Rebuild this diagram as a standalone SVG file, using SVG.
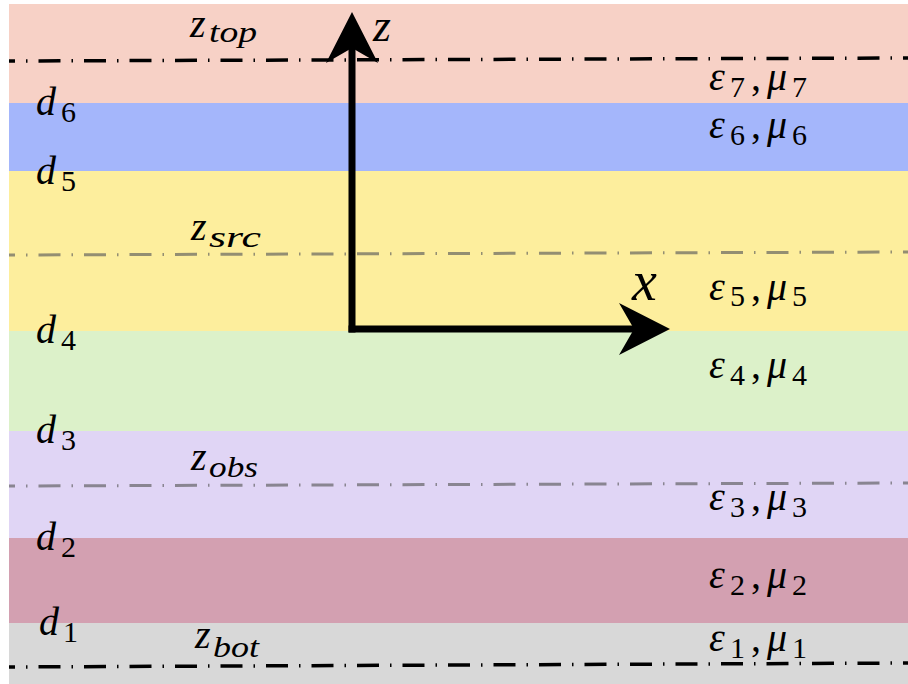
<svg xmlns="http://www.w3.org/2000/svg" width="908" height="684" viewBox="0 0 908 684">
<style>
.t{font-family:"Liberation Serif","Times New Roman",serif;font-size:40px;fill:#000}
.i{font-style:italic}
.s{font-size:30px;font-style:normal}
.si{font-size:29px;font-style:italic}
.ax{font-family:"Liberation Serif",serif;font-style:italic;fill:#000}
.dk{fill:none;stroke:#000;stroke-width:3.5;stroke-dasharray:22 11 1.5 11;stroke-dashoffset:16}
.gr{fill:none;stroke:#5a5a5a;stroke-opacity:0.65;stroke-width:3;stroke-dasharray:22 11 1.5 11;stroke-dashoffset:16}
.axis{fill:none;stroke:#000;stroke-width:7;marker-end:url(#ah)}
</style>
<defs>
<marker id="ah" viewBox="0 -26 51 52" refX="17" refY="0" markerWidth="51" markerHeight="52" markerUnits="userSpaceOnUse" orient="auto" overflow="visible">
<path d="M51,0 L0,-26 L15,0 L0,26 Z" fill="#000"/>
</marker>
</defs>
<rect x="0" y="0" width="908" height="684" fill="#fff"/>
<g id="layer7"><rect x="9" y="4" width="899" height="99" fill="#F7D1C6"/>
<text class="t"><tspan class="i" x="709" y="90">ε</tspan><tspan class="s" x="730" y="97">7</tspan><tspan x="751" y="90">,</tspan><tspan class="i" x="767" y="90">μ</tspan><tspan class="s" x="792" y="97">7</tspan></text></g>
<g id="layer6"><rect x="9" y="103" width="899" height="68" fill="#A4B6FB"/>
<text class="t"><tspan class="i" x="709" y="138">ε</tspan><tspan class="s" x="730" y="145">6</tspan><tspan x="751" y="138">,</tspan><tspan class="i" x="767" y="138">μ</tspan><tspan class="s" x="792" y="145">6</tspan></text></g>
<g id="layer5"><rect x="9" y="171" width="899" height="160" fill="#FDEE9D"/>
<text class="t"><tspan class="i" x="709" y="300">ε</tspan><tspan class="s" x="730" y="306">5</tspan><tspan x="751" y="300">,</tspan><tspan class="i" x="767" y="300">μ</tspan><tspan class="s" x="792" y="306">5</tspan></text></g>
<g id="layer4"><rect x="9" y="331" width="899" height="100" fill="#DCF1C9"/>
<text class="t"><tspan class="i" x="709" y="378">ε</tspan><tspan class="s" x="730" y="385">4</tspan><tspan x="751" y="378">,</tspan><tspan class="i" x="767" y="378">μ</tspan><tspan class="s" x="792" y="385">4</tspan></text></g>
<g id="layer3"><rect x="9" y="431" width="899" height="107" fill="#E0D5F5"/>
<text class="t"><tspan class="i" x="709" y="510">ε</tspan><tspan class="s" x="730" y="517">3</tspan><tspan x="751" y="510">,</tspan><tspan class="i" x="767" y="510">μ</tspan><tspan class="s" x="792" y="517">3</tspan></text></g>
<g id="layer2"><rect x="9" y="538" width="899" height="85" fill="#D3A0B1"/>
<text class="t"><tspan class="i" x="709" y="588">ε</tspan><tspan class="s" x="730" y="595">2</tspan><tspan x="751" y="588">,</tspan><tspan class="i" x="767" y="588">μ</tspan><tspan class="s" x="792" y="595">2</tspan></text></g>
<g id="layer1"><rect x="9" y="623" width="899" height="61" fill="#D8D8D8"/>
<text class="t"><tspan class="i" x="709" y="651">ε</tspan><tspan class="s" x="730" y="658">1</tspan><tspan x="751" y="651">,</tspan><tspan class="i" x="767" y="651">μ</tspan><tspan class="s" x="792" y="658">1</tspan></text></g>
<g id="thickness">
<text class="t"><tspan class="i" x="36" y="115">d</tspan><tspan class="s" x="61" y="122">6</tspan></text>
<text class="t"><tspan class="i" x="36" y="184">d</tspan><tspan class="s" x="61" y="191">5</tspan></text>
<text class="t"><tspan class="i" x="36" y="343">d</tspan><tspan class="s" x="61" y="350">4</tspan></text>
<text class="t"><tspan class="i" x="36" y="443">d</tspan><tspan class="s" x="61" y="450">3</tspan></text>
<text class="t"><tspan class="i" x="36" y="550">d</tspan><tspan class="s" x="61" y="557">2</tspan></text>
<text class="t"><tspan class="i" x="39" y="635">d</tspan><tspan class="s" x="63" y="642">1</tspan></text>
</g>
<g id="planes">
<line class="dk" x1="9" y1="61" x2="908" y2="58"/>
<line class="gr" x1="9" y1="255" x2="908" y2="252"/>
<line class="gr" x1="9" y1="486" x2="908" y2="483"/>
<line class="dk" x1="9" y1="667" x2="908" y2="663"/>
<text class="t"><tspan class="i" x="190" y="37">z</tspan><tspan class="si" x="209" y="42" textLength="48" lengthAdjust="spacingAndGlyphs">top</tspan></text>
<text class="t"><tspan class="i" x="191" y="240">z</tspan><tspan class="si" x="209" y="247" textLength="52" lengthAdjust="spacingAndGlyphs">src</tspan></text>
<text class="t"><tspan class="i" x="191" y="470">z</tspan><tspan class="si" x="209" y="477" textLength="49" lengthAdjust="spacingAndGlyphs">obs</tspan></text>
<text class="t"><tspan class="i" x="195" y="648">z</tspan><tspan class="si" x="213" y="657" textLength="46" lengthAdjust="spacingAndGlyphs">bot</tspan></text>
</g>
<g id="connectors">
<line class="axis" x1="352" y1="332.5" x2="352" y2="46"/>
<line class="axis" x1="348.5" y1="329" x2="636" y2="329"/>
<text class="ax" x="373" y="41" font-size="46">z</text>
<text class="ax" x="632" y="300" font-size="56">x</text>
</g>
</svg>
